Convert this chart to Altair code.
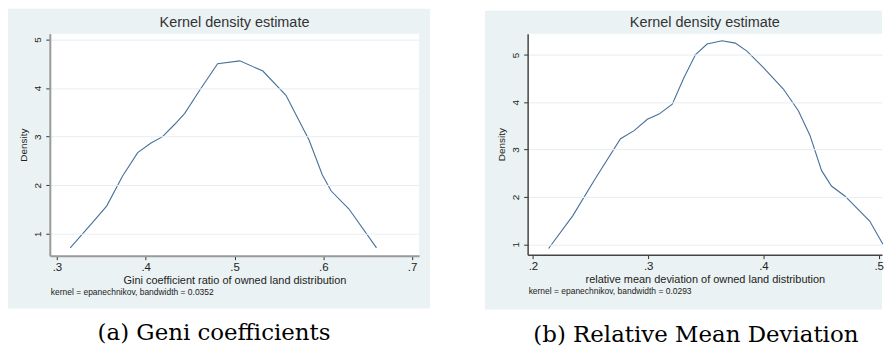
import altair as alt
import pandas as pd

# ---- data ----
gini_x = [0.315, 0.340, 0.356, 0.374, 0.391, 0.406, 0.419, 0.433, 0.444, 0.461, 0.481,
          0.506, 0.532, 0.558, 0.584, 0.599, 0.609, 0.629, 0.660]
gini_y = [0.71, 1.23, 1.57, 2.19, 2.67, 2.87, 3.00, 3.26, 3.48, 3.96, 4.50,
          4.56, 4.35, 3.85, 2.93, 2.21, 1.88, 1.51, 0.71]

rmd_x = [0.2136, 0.2345, 0.2547, 0.2760, 0.2878, 0.2993, 0.3094, 0.3209, 0.3310, 0.3411,
         0.3511, 0.3641, 0.3756, 0.3857, 0.4000, 0.4173, 0.4303, 0.4404, 0.4504, 0.4590,
         0.4706, 0.4922, 0.5037]
rmd_y = [0.91, 1.60, 2.41, 3.23, 3.40, 3.64, 3.75, 3.96, 4.52, 5.01,
         5.23, 5.30, 5.25, 5.08, 4.73, 4.28, 3.82, 3.30, 2.56, 2.23,
         2.02, 1.49, 1.00]

gini_xticks = [0.3, 0.4, 0.5, 0.6, 0.7]
rmd_xticks = [0.2, 0.3, 0.4, 0.5]
y_ticks = [1, 2, 3, 4, 5]

PANEL_BG = "#eaf2f3"
LINE_COLOR = "#46709a"
FONT = "Liberation Sans"


def panel(xs, ys, xdom, ydom, xticks, W, H, xtitle, note, caption,
          gl, gr, gt, gb, domain_color, domain_width, cap_x, cap_y):
    df = pd.DataFrame({"x": xs, "y": ys})
    one = pd.DataFrame({"k": [0]})

    bg = alt.Chart(one).mark_rect(color=PANEL_BG).encode(
        x=alt.value(-gl), x2=alt.value(W + gr),
        y=alt.value(-gt), y2=alt.value(H + gb))
    white = alt.Chart(one).mark_rect(color="white").encode(
        x=alt.value(0), x2=alt.value(W), y=alt.value(0), y2=alt.value(H))

    line = alt.Chart(df).mark_line(color=LINE_COLOR, strokeWidth=1.1).encode(
        x=alt.X("x:Q", scale=alt.Scale(domain=xdom, nice=False, zero=False),
                axis=alt.Axis(values=xticks, title=xtitle,
                              labelExpr="substring(format(datum.value, '.1f'), 1)",
                              grid=False, domainColor=domain_color,
                              domainWidth=domain_width, tickColor="#333",
                              tickSize=4, labelFontSize=11.5, labelPadding=2,
                              labelColor="#222", titleFontSize=11,
                              titleFontWeight="normal", titleColor="#222",
                              titlePadding=1, labelFont=FONT, titleFont=FONT,
                              zindex=1)),
        y=alt.Y("y:Q", scale=alt.Scale(domain=ydom, nice=False, zero=False),
                axis=alt.Axis(values=y_ticks, title="Density", format="d",
                              labelAngle=-90, labelAlign="center",
                              labelBaseline="bottom", grid=True,
                              gridColor="#e6eef2", gridWidth=1,
                              domainColor=domain_color, domainWidth=domain_width,
                              tickColor="#333", tickSize=4, labelFontSize=10,
                              labelPadding=3, labelColor="#222",
                              titleFontSize=10, titleFontWeight="normal",
                              titleColor="#222", titlePadding=4,
                              labelFont=FONT, titleFont=FONT, zindex=1)),
        order=alt.Order("x:Q"))

    title = alt.Chart(one).mark_text(
        text="Kernel density estimate", font=FONT, fontSize=14.5,
        color="#333", baseline="middle", align="center").encode(
        x=alt.value(W / 2), y=alt.value(-11))
    note_t = alt.Chart(one).mark_text(
        text=note, font=FONT, fontSize=8.5, color="#222",
        baseline="middle", align="left").encode(
        x=alt.value(1), y=alt.value(H + 37))
    cap = alt.Chart(one).mark_text(
        text=caption, font="DejaVu Serif", fontSize=23, color="black",
        baseline="middle", align="center").encode(
        x=alt.value(cap_x), y=alt.value(cap_y))

    return alt.layer(bg, white, line, title, note_t, cap).properties(
        width=W, height=H)


left = panel(gini_x, gini_y, [0.292, 0.708], [0.55, 5.12], gini_xticks,
             371, 223, "Gini coefficient ratio of owned land distribution",
             "kernel = epanechnikov, bandwidth = 0.0352", "(a) Geni coefficients",
             42, 11, 25, 53, "#9a9a9a", 2, 165, 301)
right = panel(rmd_x, rmd_y, [0.1954, 0.5029], [0.78, 5.45], rmd_xticks,
              356, 222, "relative mean deviation of owned land distribution",
              "kernel = epanechnikov, bandwidth = 0.0293", "(b) Relative Mean Deviation",
              43, 0, 23, 55, "#444444", 1.5, 169, 303)

chart = alt.hconcat(left, right, spacing=55).properties(
    padding=0, background="white"
).configure_view(stroke=None)

chart.save("out.html", embed_options={"renderer": "svg", "actions": False})
